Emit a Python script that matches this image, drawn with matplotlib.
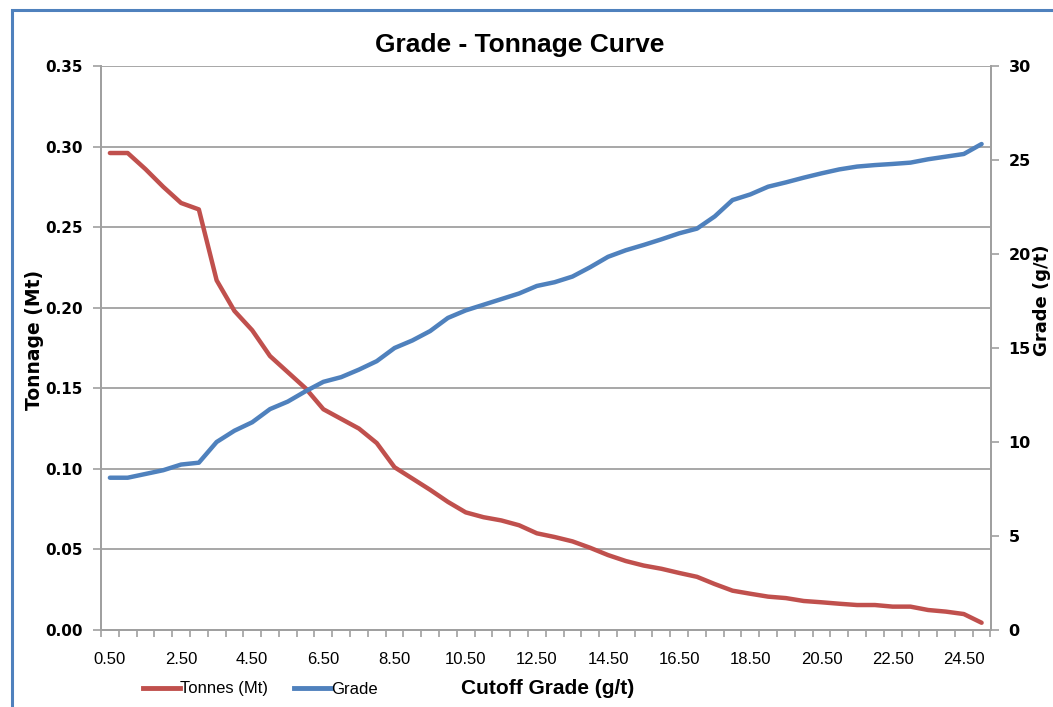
import numpy as np
import matplotlib
matplotlib.use('Agg')
import matplotlib.pyplot as plt
from matplotlib.patches import Rectangle
from matplotlib.lines import Line2D

plt.rcParams['font.family'] = ['Liberation Sans Narrow', 'Liberation Sans', 'DejaVu Sans']

# cutoff grades (g/t), 0.5 step
cutoff = [0.5, 1.0, 1.5, 2.0, 2.5, 3.0, 3.5, 4.0, 4.5, 5.0,
          5.5, 6.0, 6.5, 7.0, 7.5, 8.0, 8.5, 9.0, 9.5, 10.0,
          10.5, 11.0, 11.5, 12.0, 12.5, 13.0, 13.5, 14.0, 14.5, 15.0,
          15.5, 16.0, 16.5, 17.0, 17.5, 18.0, 18.5, 19.0, 19.5, 20.0,
          20.5, 21.0, 21.5, 22.0, 22.5, 23.0, 23.5, 24.0, 24.5, 25.0]

tonnes = [0.296, 0.296, 0.286, 0.275, 0.265, 0.261, 0.217, 0.198, 0.186, 0.170,
          0.160, 0.150, 0.137, 0.131, 0.125, 0.116, 0.101, 0.094, 0.087, 0.0795,
          0.073, 0.070, 0.068, 0.065, 0.060, 0.0577, 0.055, 0.051, 0.0465, 0.0428,
          0.040, 0.038, 0.0354, 0.033, 0.0285, 0.0244, 0.0225, 0.0207, 0.0198, 0.018,
          0.0172, 0.0163, 0.0155, 0.0155, 0.0145, 0.0145, 0.0124, 0.0114, 0.0099, 0.0045]

grade = [8.1, 8.1, 8.3, 8.5, 8.8, 8.9, 10.0, 10.6, 11.05, 11.75,
         12.15, 12.7, 13.2, 13.45, 13.85, 14.3, 15.0, 15.4, 15.9, 16.6,
         17.0, 17.3, 17.6, 17.9, 18.3, 18.5, 18.8, 19.3, 19.85, 20.2,
         20.48, 20.78, 21.1, 21.35, 22.0, 22.87, 23.17, 23.58, 23.81, 24.06,
         24.29, 24.5, 24.65, 24.73, 24.79, 24.86, 25.04, 25.18, 25.32, 25.85]

red = '#C0504D'
blue = '#4F81BD'
grey = '#A0A0A0'

fig = plt.figure(figsize=(10.53, 7.07), dpi=100)

# chart frame
fig.patches.append(Rectangle((12 / 1053, -0.1), 1.2, 1 - 10 / 707 + 0.1,
                             transform=fig.transFigure, fill=False,
                             edgecolor='#4F81BD', linewidth=2.2))

ax1 = fig.add_axes([101 / 1053, 1 - 630 / 707, 889.5 / 1053, 564 / 707])
ax2 = ax1.twinx()

x = np.arange(len(cutoff))
ax1.plot(x, tonnes, color=red, linewidth=3.2, solid_capstyle='round',
         solid_joinstyle='round', zorder=3)
ax2.plot(x, grade, color=blue, linewidth=3.2, solid_capstyle='round',
         solid_joinstyle='round', zorder=3)

ax1.set_xlim(-0.5, len(cutoff) - 0.5)
ax1.set_ylim(0, 0.35)
ax2.set_ylim(0, 30)

ax1.set_yticks(np.arange(0, 0.351, 0.05))
ax1.set_yticklabels(['%.2f' % v for v in np.arange(0, 0.351, 0.05)],
                    fontsize=11, fontweight='bold', family='DejaVu Sans')
ax2.set_yticks(np.arange(0, 31, 5))
ax2.set_yticklabels([str(v) for v in range(0, 31, 5)],
                    fontsize=11.5, fontweight='bold', family='DejaVu Sans')

ax1.yaxis.grid(True, color=grey, linewidth=1.3)
ax1.set_axisbelow(True)

# category axis: ticks at boundaries, labels every fourth category
ax1.set_xticks(np.arange(-0.5, len(cutoff), 1.0), minor=True)
ax1.set_xticks(x[::4])
ax1.set_xticklabels(['%.2f' % c for c in cutoff[::4]], fontsize=12)
ax1.tick_params(axis='x', which='major', length=0, pad=16)
ax1.tick_params(axis='x', which='minor', length=5, color=grey, width=1.2)
ax1.tick_params(axis='y', length=6, color=grey, width=1.2, pad=7)
ax2.tick_params(axis='y', length=6, color=grey, width=1.2, pad=7)

for a in (ax1, ax2):
    a.spines['top'].set_visible(False)
    for s in ('left', 'right', 'bottom'):
        a.spines[s].set_color(grey)
        a.spines[s].set_linewidth(1.3)

fig.text(520 / 1053, 1 - 45 / 707, 'Grade - Tonnage Curve', ha='center',
         va='center', fontsize=19, fontweight='bold')
fig.text(34 / 1053, 1 - 340 / 707, 'Tonnage (Mt)', ha='center', va='center',
         rotation=90, fontsize=13.5, fontweight='bold', family='DejaVu Sans')
fig.text(1042 / 1053, 1 - 300 / 707, 'Grade (g/t)', ha='center', va='center',
         rotation=90, fontsize=13, fontweight='bold', family='DejaVu Sans')
fig.text(548 / 1053, 1 - 688 / 707, 'Cutoff Grade (g/t)', ha='center',
         va='center', fontsize=15, fontweight='bold')

handles = [Line2D([], [], color=red, linewidth=3.5),
           Line2D([], [], color=blue, linewidth=3.5)]
fig.legend(handles, ['Tonnes (Mt)', 'Grade'], loc='center left',
           bbox_to_anchor=(128 / 1053, 1 - 689 / 707), ncol=2, frameon=False,
           fontsize=12, handlelength=2.2, handletextpad=0.0, columnspacing=1.6)

fig.savefig('out.png', dpi=100)
